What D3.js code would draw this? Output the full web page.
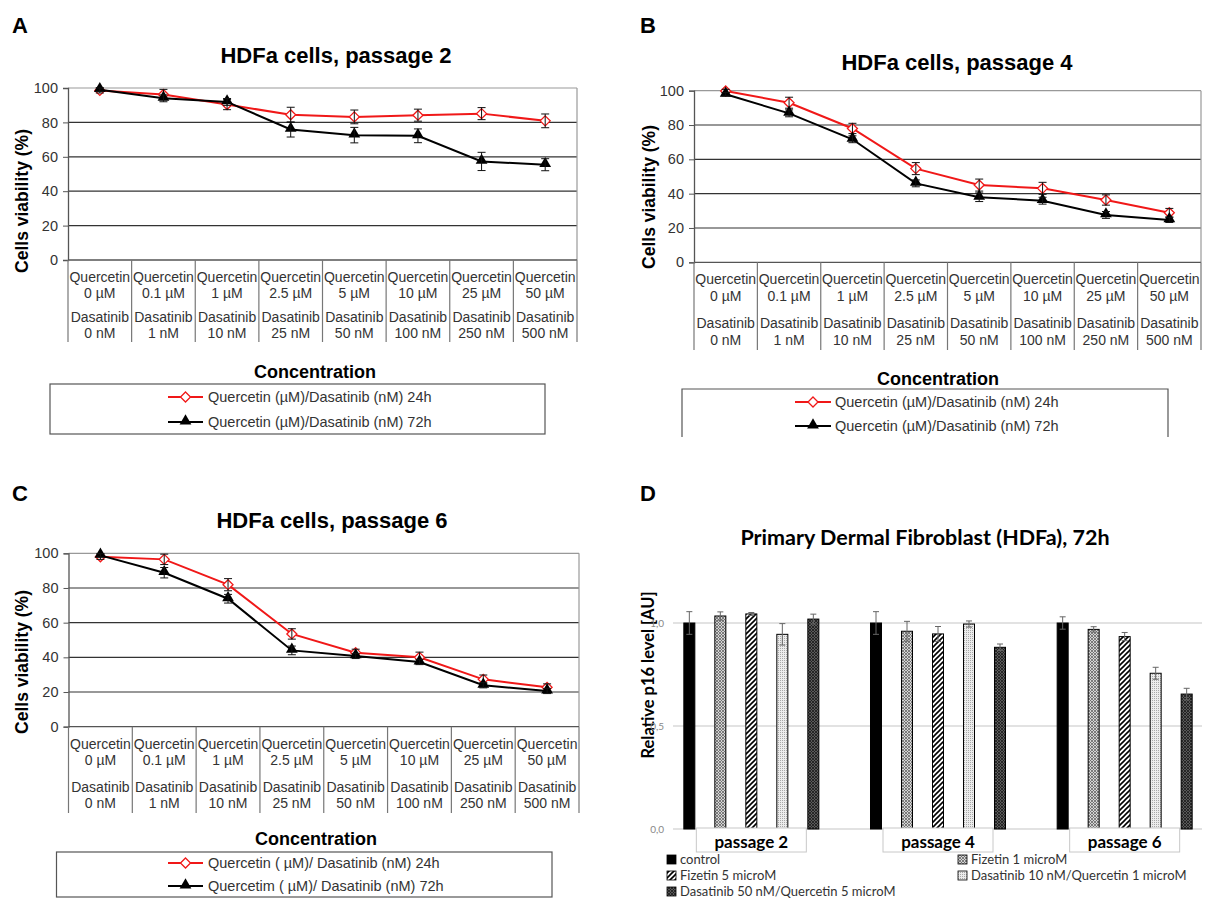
<!DOCTYPE html>
<meta charset="utf-8">
<style>
  body { margin: 0; background: #fff; }
  svg text { font-family: 'Liberation Sans', Arial, sans-serif; }
  .lato { font-family: Lato, 'Open Sans', sans-serif !important; }
</style>
<script src="https://cdn.jsdelivr.net/npm/d3@7"></script>
<body>
<div id="fig"></div>
<script>
// ---- data ----
var quercetin = ["0 µM", "0.1 µM", "1 µM", "2.5 µM", "5 µM", "10 µM", "25 µM", "50 µM"];
var dasatinib = ["0 nM", "1 nM", "10 nM", "25 nM", "50 nM", "100 nM", "250 nM", "500 nM"];

// cell viability (%), mean and error
var p2_24h = [98.6, 96.2, 90.4, 84.4, 83.2, 84.2, 85.1, 80.9];
var p2_24h_err = [1.5, 3, 3, 4.4, 4, 3.5, 3.5, 4];
var p2_72h = [99, 94, 91.9, 75.9, 72.6, 72.2, 57.3, 55.4];
var p2_72h_err = [1, 2, 2, 4.4, 4.5, 4, 5.3, 3.5];

var p4_24h = [99.8, 93, 78, 54.6, 45, 43.1, 36.3, 28.9];
var p4_24h_err = [1, 3.2, 3, 3.5, 3.5, 3.5, 3, 2.5];
var p4_72h = [97.9, 86.8, 71.7, 46, 37.9, 35.9, 27.6, 24.7];
var p4_72h_err = [1, 2, 2, 2, 2.5, 2, 2, 1.5];

var p6_24h = [98, 96.5, 81.9, 53.5, 42.7, 40, 27.3, 22.7];
var p6_24h_err = [1.5, 3, 3.5, 3, 2, 3, 2.5, 2];
var p6_72h = [98.8, 88.8, 73.8, 44, 40.8, 37.3, 23.9, 20.6];
var p6_72h_err = [1, 3, 2.5, 2.5, 1.5, 1.5, 1.5, 1.5];

var yTicks = [0, 20, 40, 60, 80, 100];

// p16 panel
var passages = ["passage 2", "passage 4", "passage 6"];
var treatments = ["control", "Fizetin 1 microM", "Fizetin 5 microM",
  "Dasatinib 10 nM/Quercetin 1 microM", "Dasatinib 50 nM/Quercetin 5 microM"];
var p16_p2 = [1.0, 1.034, 1.044, 0.945, 1.019];
var p16_p4 = [1.0, 0.96, 0.947, 0.995, 0.882];
var p16_p6 = [1.0, 0.969, 0.934, 0.756, 0.655];
var p16_p2_err = [0.055, 0.02, 0.007, 0.052, 0.024];
var p16_p4_err = [0.055, 0.048, 0.036, 0.015, 0.016];
var p16_p6_err = [0.03, 0.013, 0.02, 0.029, 0.028];
var p16Ticks = [0, 0.5, 1];

var svg = d3.select("#fig").append("svg").attr("width", 1205).attr("height", 898);

// square diamond marker, like the spreadsheet one
var diamondPath = "M0,-5L5,0L0,5L-5,0Z";

// ---- line panels (A, B, C) ----
function linePanel(o) {
  var g = svg.append("g");
  var x = d3.scaleBand().domain(quercetin).range([o.left, o.right]);
  var y = d3.scaleLinear().domain([0, 100]).range([o.bottom, o.top]);

  g.append("text").attr("x", o.letter[0]).attr("y", o.letter[1])
    .style("font-size", "22px").style("font-weight", "bold").text(o.id);
  g.append("text").attr("x", o.title[0]).attr("y", o.title[1]).attr("text-anchor", "middle")
    .style("font-size", "22px").style("font-weight", "bold").text(o.titleText);

  // grid
  g.selectAll(".grid").data(yTicks.slice(1)).enter().append("line")
    .attr("x1", o.left).attr("x2", o.right)
    .attr("y1", function(d) { return y(d); }).attr("y2", function(d) { return y(d); })
    .attr("stroke", function(d) { return d == 100 ? "#999" : "#333"; }).attr("stroke-width", 1.2);
  g.append("line").attr("x1", o.right).attr("x2", o.right).attr("y1", o.top).attr("y2", o.bottom)
    .attr("stroke", "#999").attr("stroke-width", 1.2);

  // y axis
  var ya = g.append("g").attr("transform", "translate(" + o.left + ",0)")
    .call(d3.axisLeft(y).tickValues(yTicks).tickSize(5).tickPadding(5));
  ya.select(".domain").attr("stroke", "#555").attr("stroke-width", 1.3);
  ya.selectAll(".tick line").attr("stroke", "#555");
  ya.selectAll("text").style("font-size", "14.5px").attr("fill", "#333")
    .style("font-family", "'Liberation Sans', Arial, sans-serif");
  g.append("line").attr("x1", o.left).attr("x2", o.right).attr("y1", o.bottom).attr("y2", o.bottom)
    .attr("stroke", "#555").attr("stroke-width", 1.3);

  // category table
  var edges = quercetin.map(function(d) { return x(d); }).concat([o.right]);
  g.selectAll(".sep").data(edges).enter().append("line")
    .attr("x1", function(d) { return d; }).attr("x2", function(d) { return d; })
    .attr("y1", o.bottom).attr("y2", o.tableBottom).attr("stroke", "#777").attr("stroke-width", 1.2);
  quercetin.forEach(function(q, i) {
    var cx = x(q) + x.bandwidth() / 2;
    var lines = ["Quercetin", q, "Dasatinib", dasatinib[i]];
    lines.forEach(function(t, k) {
      g.append("text").attr("x", cx).attr("y", o.bottom + o.rows[k] + 5).attr("text-anchor", "middle")
        .style("font-size", "14px").attr("fill", "#333").text(t);
    });
  });

  g.append("text").attr("transform", "translate(" + o.ytitle[0] + "," + o.ytitle[1] + ") rotate(-90)")
    .attr("text-anchor", "middle").attr("dy", "0.35em")
    .style("font-size", "17.5px").style("font-weight", "bold").text("Cells viability (%)");
  g.append("text").attr("x", o.xtitle[0]).attr("y", o.xtitle[1]).attr("text-anchor", "middle")
    .style("font-size", "18px").style("font-weight", "bold").text("Concentration");

  // series
  var series = [
    {vals: o.s24, err: o.e24, color: "#f01818", marker: "diamond"},
    {vals: o.s72, err: o.e72, color: "#000", marker: "triangle"}
  ];
  var line = d3.line().x(function(d, i) { return x(quercetin[i]) + x.bandwidth() / 2; })
    .y(function(d) { return y(d); });
  var triangle = d3.symbol().type(d3.symbolTriangle).size(60);
  function marker(s, cx, cy) {
    if (s.marker == "diamond") {
      g.append("path").attr("d", diamondPath).attr("transform", "translate(" + cx + "," + cy + ")")
        .attr("fill", "#fff").attr("stroke", s.color).attr("stroke-width", 1.3);
    } else {
      g.append("path").attr("d", triangle).attr("transform", "translate(" + cx + "," + (cy - 1) + ")")
        .attr("fill", "#000");
    }
  }
  series.forEach(function(s) {
    g.append("path").datum(s.vals).attr("d", line).attr("fill", "none")
      .attr("stroke", s.color).attr("stroke-width", 2);
    s.vals.forEach(function(v, i) {
      var cx = x(quercetin[i]) + x.bandwidth() / 2;
      marker(s, cx, y(v));
      var e = s.err[i];
      g.append("path").attr("d", "M" + cx + "," + y(v + e) + "V" + y(v - e) +
          "M" + (cx - 4) + "," + y(v + e) + "H" + (cx + 4) + "M" + (cx - 4) + "," + y(v - e) + "H" + (cx + 4))
        .attr("stroke", "#111").attr("stroke-width", 1).attr("fill", "none");
    });
  });

  // legend
  var lb = o.legend;
  if (lb.open) {
    g.append("path").attr("d", "M" + lb.x + "," + (lb.y + lb.h) + "V" + lb.y + "H" + (lb.x + lb.w) + "V" + (lb.y + lb.h))
      .attr("fill", "none").attr("stroke", "#555").attr("stroke-width", 1.2);
  } else {
    g.append("rect").attr("x", lb.x).attr("y", lb.y).attr("width", lb.w).attr("height", lb.h)
      .attr("fill", "none").attr("stroke", "#555").attr("stroke-width", 1.2);
  }
  series.forEach(function(s, k) {
    var ly = lb.items[k];
    g.append("line").attr("x1", lb.lx[0]).attr("x2", lb.lx[1]).attr("y1", ly).attr("y2", ly)
      .attr("stroke", s.color).attr("stroke-width", 2);
    marker(s, (lb.lx[0] + lb.lx[1]) / 2, ly);
    g.append("text").attr("x", lb.tx).attr("y", ly + 5).style("font-size", "14.5px").attr("fill", "#333")
      .text(o.legendText[k]);
  });
}

linePanel({
  id: "A", letter: [12, 33], title: [336, 63], titleText: "HDFa cells, passage 2",
  left: 68, right: 577, top: 88, bottom: 260, tableBottom: 342, rows: [17, 33, 57, 73],
  ytitle: [22, 201], xtitle: [315, 378],
  s24: p2_24h, e24: p2_24h_err, s72: p2_72h, e72: p2_72h_err,
  legend: {x: 50, y: 384, w: 495, h: 50, open: false, items: [397, 422], lx: [168, 203], tx: 208},
  legendText: ["Quercetin (µM)/Dasatinib (nM) 24h", "Quercetin (µM)/Dasatinib (nM) 72h"]
});
linePanel({
  id: "B", letter: [640, 33], title: [957, 70], titleText: "HDFa cells, passage 4",
  left: 694, right: 1201, top: 90.7, bottom: 262.3, tableBottom: 350, rows: [17, 34, 61, 78],
  ytitle: [649, 197], xtitle: [938, 385],
  s24: p4_24h, e24: p4_24h_err, s72: p4_72h, e72: p4_72h_err,
  legend: {x: 682, y: 389, w: 486, h: 48, open: true, items: [402, 426], lx: [795, 831], tx: 835},
  legendText: ["Quercetin (µM)/Dasatinib (nM) 24h", "Quercetin (µM)/Dasatinib (nM) 72h"]
});
linePanel({
  id: "C", letter: [12, 501], title: [332, 528], titleText: "HDFa cells, passage 6",
  left: 68.5, right: 579, top: 553.3, bottom: 726.7, tableBottom: 813, rows: [17, 33, 60, 76],
  ytitle: [22, 662], xtitle: [316, 845],
  s24: p6_24h, e24: p6_24h_err, s72: p6_72h, e72: p6_72h_err,
  legend: {x: 56.5, y: 852, w: 495.5, h: 45, open: false, items: [863, 886], lx: [168, 203], tx: 208},
  legendText: ["Quercetin ( µM)/ Dasatinib (nM) 24h", "Quercetim ( µM)/ Dasatinib (nM) 72h"]
});

// ---- bar panel (D) ----
var defs = svg.append("defs");
function pat(id, size) {
  return defs.append("pattern").attr("id", id).attr("width", size).attr("height", size)
    .attr("patternUnits", "userSpaceOnUse");
}
var pf1 = pat("patF1", 3);
pf1.append("rect").attr("width", 3).attr("height", 3).attr("fill", "#d4d4d4");
pf1.append("path").attr("d", "M0,0L3,3M3,0L0,3").attr("stroke", "#666").attr("stroke-width", 0.8);
var pf5 = pat("patF5", 5);
pf5.append("rect").attr("width", 5).attr("height", 5).attr("fill", "#fff");
pf5.append("path").attr("d", "M0,5L5,0M-1,1L1,-1M4,6L6,4").attr("stroke", "#000").attr("stroke-width", 1.6);
var pdq1 = pat("patDQ1", 2);
pdq1.append("rect").attr("width", 2).attr("height", 2).attr("fill", "#ececec");
pdq1.append("rect").attr("width", 1).attr("height", 1).attr("fill", "#a8a8a8");
var pdq5 = pat("patDQ5", 3);
pdq5.append("rect").attr("width", 3).attr("height", 3).attr("fill", "#5a5a5a");
pdq5.append("path").attr("d", "M0,0L3,3M3,0L0,3").attr("stroke", "#1a1a1a").attr("stroke-width", 0.8);
var fills = ["#000", "url(#patF1)", "url(#patF5)", "url(#patDQ1)", "url(#patDQ5)"];

var gD = svg.append("g");
gD.append("text").attr("x", 640).attr("y", 501).style("font-size", "22px").style("font-weight", "bold").text("D");
gD.append("text").attr("class", "lato").attr("x", 925).attr("y", 545).attr("text-anchor", "middle")
  .style("font-size", "21.5px").style("font-weight", "bold").text("Primary Dermal Fibroblast (HDFa), 72h");

var yD = d3.scaleLinear().domain([0, 1]).range([829, 623]);
var x0 = d3.scaleBand().domain(passages).range([658, 1218]);
var x1 = d3.scaleBand().domain(treatments).range([-77.5, 77.5]).paddingInner(0.645).paddingOuter(0.3225);

gD.selectAll(".gridD").data(p16Ticks).enter().append("line")
  .attr("x1", 673).attr("x2", 1202)
  .attr("y1", function(d) { return yD(d); }).attr("y2", function(d) { return yD(d); })
  .attr("stroke", "#d9d9d9").attr("stroke-width", 1.5);

gD.append("text").attr("class", "lato").attr("transform", "translate(648,675) rotate(-90)")
  .attr("text-anchor", "middle").attr("dy", "0.35em")
  .style("font-size", "16.5px").style("font-weight", "bold").text("Relative p16 level [AU]");

gD.selectAll(".tickD").data(p16Ticks).enter().append("text").attr("class", "lato")
  .attr("x", 664).attr("y", function(d) { return yD(d) + 4; }).attr("text-anchor", "end")
  .style("font-size", "10px").attr("fill", "#888")
  .text(function(d) { return d3.format(".1f")(d).replace(".", ","); });

var p16 = [p16_p2, p16_p4, p16_p6];
var p16err = [p16_p2_err, p16_p4_err, p16_p6_err];
passages.forEach(function(p, gi) {
  var gc = x0(p) + x0.bandwidth() / 2;
  treatments.forEach(function(t, ti) {
    var v = p16[gi][ti], e = p16err[gi][ti];
    var bx = gc + x1(t);
    gD.append("rect").attr("x", bx).attr("y", yD(v)).attr("width", x1.bandwidth()).attr("height", yD(0) - yD(v))
      .attr("fill", fills[ti]).attr("stroke", "#000").attr("stroke-width", 1);
    var cx = bx + x1.bandwidth() / 2;
    gD.append("path").attr("d", "M" + cx + "," + yD(v + e) + "V" + yD(v - e) +
        "M" + (cx - 3) + "," + yD(v + e) + "H" + (cx + 3) + "M" + (cx - 3) + "," + yD(v - e) + "H" + (cx + 3))
      .attr("stroke", "#666").attr("stroke-width", 1).attr("fill", "none");
  });
  gD.append("rect").attr("x", gc - 55).attr("y", 828).attr("width", 110).attr("height", 24)
    .attr("fill", "#fff").attr("stroke", "#c8c8c8").attr("stroke-width", 1);
  gD.append("text").attr("class", "lato").attr("x", gc).attr("y", 848).attr("text-anchor", "middle")
    .style("font-size", "17px").style("font-weight", "bold").text(p);
});

// legend D
var legPos = [[667, 860], [958, 860], [667, 876], [958, 876], [667, 892]];
treatments.forEach(function(t, i) {
  var lp = legPos[i];
  gD.append("rect").attr("x", lp[0]).attr("y", lp[1] - 5).attr("width", 9).attr("height", 9)
    .attr("fill", fills[i]).attr("stroke", "#000").attr("stroke-width", 0.8);
  gD.append("text").attr("class", "lato").attr("x", lp[0] + 13).attr("y", lp[1] + 4)
    .style("font-size", "13px").attr("fill", "#333").text(t);
});
</script>
</body>
